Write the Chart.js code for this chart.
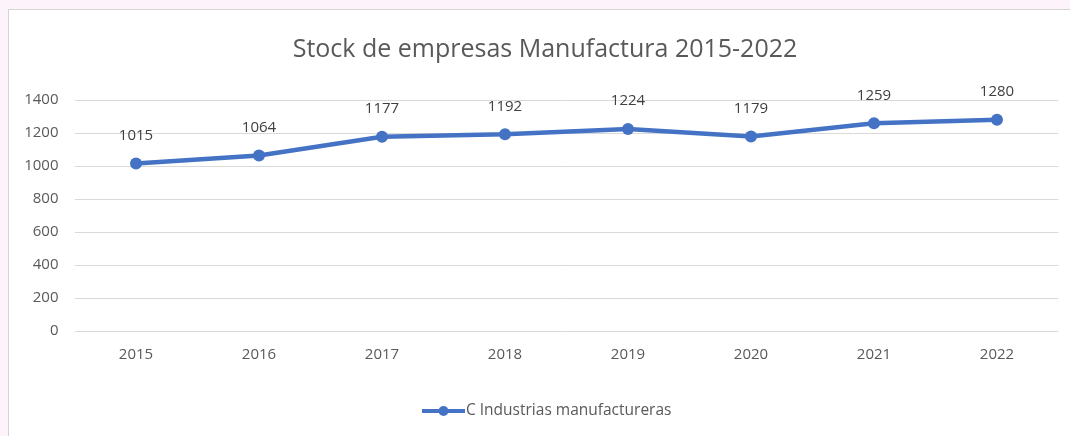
<!DOCTYPE html>
<html>
<head>
<meta charset="utf-8">
<script src="https://cdn.jsdelivr.net/npm/chart.js@4"></script>
<style>
  html, body { margin: 0; padding: 0; background: #fcf3fb; width: 1070px; height: 436px; overflow: hidden; }
  #frame { position: absolute; left: 8px; top: 9px; width: 1070px; height: 440px; background: #ffffff; border-left: 1px solid #d4d4d4; border-top: 1px solid #d4d4d4; }
  #wrap { position: absolute; left: 0; top: 0; width: 1070px; height: 436px; }
</style>
</head>
<body>
<div id="frame"></div>
<div id="wrap"><canvas id="c" width="1070" height="436"></canvas></div>
<script>
const chartTitle = "Stock de empresas Manufactura 2015-2022";
const categories = ["2015", "2016", "2017", "2018", "2019", "2020", "2021", "2022"];
const seriesName = "C Industrias manufactureras";
const seriesValues = [1015, 1064, 1177, 1192, 1224, 1179, 1259, 1280];
const yTicks = [0, 200, 400, 600, 800, 1000, 1200, 1400];

const FONT = "'Open Sans', 'DejaVu Sans', sans-serif";
const BLUE = "#4472C4";

const labelsPlugin = {
  id: "customText",
  afterDatasetsDraw(chart) {
    const ctx = chart.ctx;
    const meta = chart.getDatasetMeta(0);
    ctx.save();
    ctx.font = "15px " + FONT;
    ctx.fillStyle = "#404040";
    ctx.textAlign = "center";
    ctx.textBaseline = "middle";
    meta.data.forEach((pt, i) => {
      ctx.fillText(String(chart.data.datasets[0].data[i]), pt.x, pt.y - 28);
    });
    // title
    ctx.font = "25px " + FONT;
    ctx.fillStyle = "#595959";
    ctx.fillText(chartTitle, 545, 50);
    // legend
    const ly = 411;
    ctx.strokeStyle = BLUE;
    ctx.lineWidth = 4;
    ctx.beginPath();
    ctx.moveTo(422, ly);
    ctx.lineTo(465, ly);
    ctx.stroke();
    ctx.fillStyle = BLUE;
    ctx.beginPath();
    ctx.arc(443.5, ly, 5, 0, Math.PI * 2);
    ctx.fill();
    ctx.font = "15.5px " + FONT;
    ctx.fillStyle = "#595959";
    ctx.textAlign = "left";
    ctx.fillText(chart.data.datasets[0].label, 466, ly);
    ctx.restore();
  }
};

new Chart(document.getElementById("c"), {
  type: "line",
  data: {
    labels: categories,
    datasets: [{
      label: seriesName,
      data: seriesValues,
      borderColor: BLUE,
      backgroundColor: BLUE,
      borderWidth: 4.5,
      pointRadius: 6,
      pointHoverRadius: 6,
      pointBackgroundColor: BLUE,
      pointBorderWidth: 0,
      tension: 0,
      clip: false
    }]
  },
  options: {
    responsive: false,
    animation: false,
    devicePixelRatio: 1,
    layout: { padding: { top: 100, right: 11.5, bottom: 0, left: 0 } },
    plugins: { legend: { display: false }, title: { display: false }, tooltip: { enabled: false } },
    scales: {
      x: {
        offset: true,
        grid: { display: false, drawTicks: false },
        border: { display: false },
        ticks: { color: "#595959", font: { family: FONT, size: 15 }, padding: 15, maxRotation: 0 },
        afterFit(scale) { scale.height = 105; }
      },
      y: {
        min: 0, max: 1400,
        afterBuildTicks(scale) { scale.ticks = yTicks.map(v => ({ value: v })); },
        grid: { color: "#d9d9d9", lineWidth: 1, drawTicks: false },
        border: { display: false },
        ticks: { color: "#595959", font: { family: FONT, size: 15 }, padding: 16, callback: v => String(v) },
        afterFit(scale) { scale.width = 74.5; }
      }
    }
  },
  plugins: [labelsPlugin]
});
</script>
</body>
</html>
